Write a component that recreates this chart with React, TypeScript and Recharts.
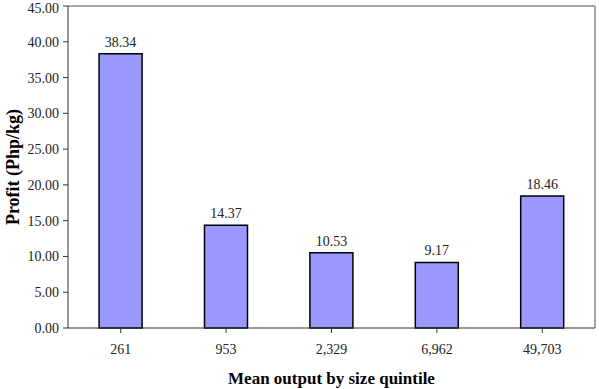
import { BarChart, Bar, XAxis, YAxis, LabelList, CartesianGrid } from "recharts";

// mean output by size quintile (category labels)
const quintiles = ["261", "953", "2,329", "6,962", "49,703"];
// profit in Php/kg
const profit = [38.34, 14.37, 10.53, 9.17, 18.46];
const yTicks = [0, 5, 10, 15, 20, 25, 30, 35, 40, 45];

const data = quintiles.map((q, i) => ({ q, profit: profit[i] }));

const font = "'Liberation Serif', 'Times New Roman', serif";
const tickStyle = { fill: "#222", fontSize: 14, fontFamily: font };

export default function App() {
  return (
    <div style={{ position: "absolute", left: 0, top: 0, width: 599, height: 389, background: "#fff" }}>
      <BarChart
        width={599}
        height={389}
        data={data}
        margin={{ top: 6, right: 4, left: 0, bottom: 0 }}
        barCategoryGap="29.5%"
      >
        {/* gray frame on top and right side of the plot */}
        <CartesianGrid
          stroke="#888"
          strokeWidth={1.5}
          horizontalCoordinatesGenerator={({ offset }: any) => [offset.top]}
          verticalCoordinatesGenerator={({ offset }: any) => [offset.left + offset.width]}
        />
        <XAxis
          dataKey="q"
          height={61}
          tick={tickStyle}
          tickSize={5}
          tickMargin={11}
          stroke="#333"
          interval={0}
          label={{
            value: "Mean output by size quintile",
            position: "insideBottom",
            offset: 5,
            style: { fill: "#000", fontSize: 17, fontWeight: "bold", fontFamily: font },
          }}
        />
        <YAxis
          domain={[0, 45]}
          ticks={yTicks}
          width={68}
          tickFormatter={(v: number) => v.toFixed(2)}
          tick={tickStyle}
          tickSize={5}
          tickMargin={4}
          stroke="#333"
          label={{
            value: "Profit (Php/kg)",
            angle: -90,
            position: "insideLeft",
            offset: 13,
            style: { textAnchor: "middle", fill: "#000", fontSize: 18, fontWeight: "bold", fontFamily: font },
          }}
        />
        <Bar dataKey="profit" fill="#9999FF" stroke="#000" strokeWidth={1.5} isAnimationActive={false}>
          <LabelList
            dataKey="profit"
            position="top"
            offset={7}
            formatter={(v: number) => v.toFixed(2)}
            style={{ fill: "#222", fontSize: 14, fontFamily: font }}
          />
        </Bar>
      </BarChart>
    </div>
  );
}
